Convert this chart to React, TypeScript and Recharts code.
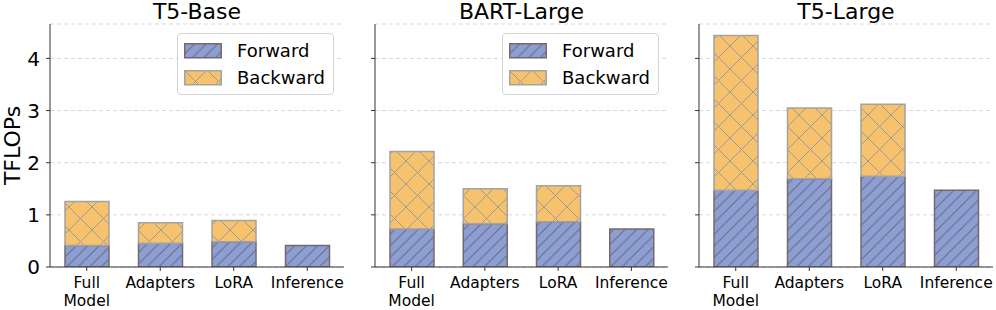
import React from "react";
import { BarChart, Bar, XAxis, YAxis, CartesianGrid, Legend } from "recharts";

// categories and readings (TFLOPs), taken off the figure
const categories = ["Full\nModel", "Adapters", "LoRA", "Inference"];
const yTicks = [0, 1, 2, 3, 4];

const t5BaseForward = [0.41, 0.455, 0.485, 0.41];
const t5BaseBackward = [0.845, 0.395, 0.405, 0];

const bartLargeForward = [0.73, 0.83, 0.87, 0.73];
const bartLargeBackward = [1.485, 0.67, 0.69, 0];

const t5LargeForward = [1.47, 1.69, 1.74, 1.47];
const t5LargeBackward = [2.97, 1.36, 1.38, 0];

const FONT = "DejaVu Sans, Verdana, sans-serif";
const Y_MAX = 4.66;

const FWD_FILL = "#8c9fd4";
const FWD_EDGE = "#75696f";
const BWD_FILL = "#f6c26d";
const BWD_EDGE = "#a3a3a3";

const legendItems = [
  { label: "Forward", fill: "url(#hatchFwd)", edge: FWD_EDGE },
  { label: "Backward", fill: "url(#hatchBwd)", edge: BWD_EDGE },
];

function buildRows(fwd: number[], bwd: number[]) {
  return categories.map((name, i) => ({ name, forward: fwd[i], backward: bwd[i] }));
}

const HatchDefs = () => (
  <svg width={0} height={0} style={{ position: "absolute" }}>
    <defs>
      <pattern id="hatchFwd" patternUnits="userSpaceOnUse" width={11.5} height={11.5}>
        <rect width={11.5} height={11.5} fill={FWD_FILL} />
        <path d="M0,11.5 L11.5,0 M-2,2 L2,-2 M9.5,13.5 L13.5,9.5" stroke="#6f6675" strokeWidth={1} />
      </pattern>
      <pattern id="hatchBwd" patternUnits="userSpaceOnUse" width={23} height={23}>
        <rect width={23} height={23} fill={BWD_FILL} />
        <path d="M0,0 L23,23 M23,0 L0,23" stroke="#9e9a96" strokeWidth={1} />
      </pattern>
    </defs>
  </svg>
);

const CategoryTick = ({ x, y, payload }: any) => {
  const lines = String(payload.value).split("\n");
  return (
    <text x={x} y={y} textAnchor="middle" fontFamily={FONT} fontSize={15.5} fill="#000">
      {lines.map((l, i) => (
        <tspan key={i} x={x} dy={i === 0 ? 15 : 18.1}>
          {l}
        </tspan>
      ))}
    </text>
  );
};

const HatchLegend = () => (
  <div
    style={{
      border: "1px solid #d4d4d4",
      borderRadius: 4,
      background: "rgba(255,255,255,0.85)",
      padding: "3px 0 3px 6px",
      fontFamily: FONT,
      fontSize: 18,
      color: "#000",
      boxSizing: "border-box",
    }}
  >
    {legendItems.map((it) => (
      <div key={it.label} style={{ display: "flex", alignItems: "center", height: 27 }}>
        <svg width={38} height={16} style={{ marginRight: 15 }}>
          <rect x={0.75} y={0.75} width={36.5} height={14} fill={it.fill} stroke={it.edge} strokeWidth={1.5} />
        </svg>
        <span>{it.label}</span>
      </div>
    ))}
  </div>
);

interface PanelProps {
  title: string;
  forward: number[];
  backward: number[];
  left: number;
  width: number;
  yAxisWidth: number;
  marginRight: number;
  showYLabels?: boolean;
  legendRight?: number;
}

function Panel({ title, forward, backward, left, width, yAxisWidth, marginRight, showYLabels, legendRight }: PanelProps) {
  const rows = buildRows(forward, backward);
  const plotLeft = yAxisWidth;
  const plotWidth = width - yAxisWidth - marginRight;
  return (
    <div style={{ position: "absolute", left, top: 0, width, height: 310 }}>
      <div
        style={{
          position: "absolute",
          left: plotLeft,
          width: plotWidth,
          top: 0,
          textAlign: "center",
          fontFamily: FONT,
          fontSize: 22,
          lineHeight: "24px",
          color: "#000",
        }}
      >
        {title}
      </div>
      <BarChart
        width={width}
        height={310}
        data={rows}
        margin={{ top: 24, right: marginRight, bottom: 0, left: 0 }}
        barSize={44}
      >
        <CartesianGrid vertical={false} stroke="#d9d9d9" strokeDasharray="4 3" />
        <XAxis
          dataKey="name"
          height={43}
          tick={<CategoryTick />}
          tickSize={4}
          tickMargin={2}
          interval={0}
          stroke="#333"
          tickLine={{ stroke: "#333" }}
        />
        <XAxis xAxisId="top" dataKey="name" orientation="top" height={0} tick={false} tickLine={false} stroke="#333" />
        <YAxis
          width={yAxisWidth}
          type="number"
          domain={[0, Y_MAX]}
          ticks={yTicks}
          allowDataOverflow
          tickSize={4}
          tickMargin={6}
          stroke="#333"
          tickFormatter={showYLabels ? (v: number) => String(v) : () => ""}
          tick={{ fontSize: 20, fill: "#000", fontFamily: FONT }}
          label={
            showYLabels
              ? {
                  content: ({ viewBox }: any) => (
                    <text
                      x={20}
                      y={viewBox.y + viewBox.height / 2}
                      transform={`rotate(-90, 20, ${viewBox.y + viewBox.height / 2})`}
                      textAnchor="middle"
                      fontFamily={FONT}
                      fontSize={22}
                      fill="#000"
                    >
                      TFLOPs
                    </text>
                  ),
                }
              : undefined
          }
        />
        <YAxis
          yAxisId="right"
          orientation="right"
          width={0}
          type="number"
          domain={[0, Y_MAX]}
          tick={false}
          tickLine={false}
          stroke="#333"
        />
        {legendRight !== undefined && (
          <Legend
            layout="vertical"
            align="center"
            verticalAlign="middle"
            content={() => <HatchLegend />}
            wrapperStyle={{ top: 33, right: legendRight, left: "auto", width: 157, height: "auto" }}
          />
        )}
        <Bar
          dataKey="forward"
          name="Forward"
          stackId="a"
          fill="url(#hatchFwd)"
          stroke={FWD_EDGE}
          strokeWidth={1.5}
          isAnimationActive={false}
        />
        <Bar
          dataKey="backward"
          name="Backward"
          stackId="a"
          fill="url(#hatchBwd)"
          stroke={BWD_EDGE}
          strokeWidth={1.5}
          isAnimationActive={false}
        />
      </BarChart>
    </div>
  );
}

export default function App() {
  return (
    <div style={{ position: "absolute", left: 0, top: 0, width: 996, height: 310, background: "#fff" }}>
      <HatchDefs />
      <Panel
        title="T5-Base"
        forward={t5BaseForward}
        backward={t5BaseBackward}
        left={0}
        width={350}
        yAxisWidth={50}
        marginRight={6}
        showYLabels
        legendRight={16}
      />
      <Panel
        title="BART-Large"
        forward={bartLargeForward}
        backward={bartLargeBackward}
        left={360}
        width={314}
        yAxisWidth={15}
        marginRight={6}
        legendRight={15}
      />
      <Panel
        title="T5-Large"
        forward={t5LargeForward}
        backward={t5LargeBackward}
        left={684}
        width={312}
        yAxisWidth={15}
        marginRight={3}
      />
    </div>
  );
}
